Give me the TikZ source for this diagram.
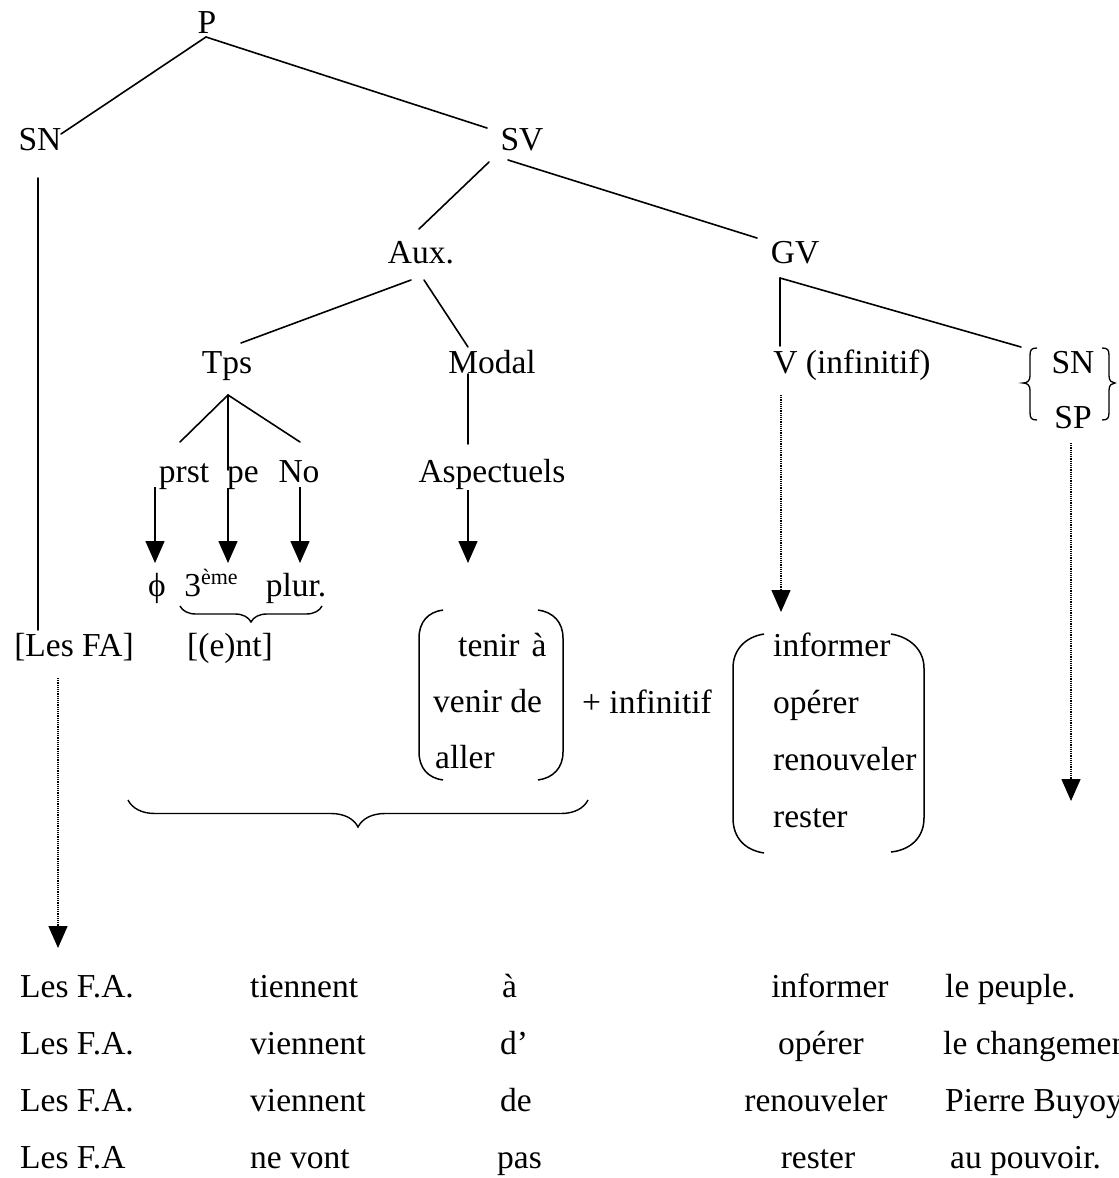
\documentclass[tikz,border=0pt]{standalone}
\usepackage{fontspec}
\setmainfont{Liberation Serif}
\usetikzlibrary{arrows.meta,decorations.pathreplacing}
\begin{document}
\begin{tikzpicture}[x=1pt,y=-1pt,
  lbl/.style={inner sep=0pt, anchor=base, font=\fontsize{33.5}{40}\selectfont},
  lbll/.style={lbl, anchor=base west},
  branch/.style={line width=1.6pt, line cap=round},
  solidarrow/.style={line width=1.6pt, -{Triangle[width=19pt,length=22pt]}},
  dotarrow/.style={line width=1.5pt, dash pattern=on 1.1pt off 1.1pt, -{Triangle[width=19pt,length=22pt]}},
  paren/.style={line width=1.5pt},
  curly/.style={line width=1.4pt, decorate}]
\useasboundingbox (0,0) rectangle (1119,1178);
\clip (0,0) rectangle (1119,1178);

% ---- tree labels
\node[lbl] (P) at (207,33) {P};
\node[lbl] (SN) at (40,150) {SN};
\node[lbl] (SV) at (522,150) {SV};
\node[lbl] (Aux) at (421,263) {Aux.};
\node[lbl] (GV) at (795,263) {GV};
\node[lbl] (Tps) at (227,373) {Tps};
\node[lbl] (Modal) at (492,373) {Modal};
\node[lbl] (Vinf) at (852,373) {V (infinitif)};
\node[lbl] (SNc) at (1073,373) {SN};
\node[lbl] (SPc) at (1073,428) {SP};
\node[lbl] (prst) at (184,482) {prst};
\node[lbl] (pe) at (243,482) {pe};
\node[lbl] (No) at (299,482) {No};
\node[lbl] (Asp) at (492,482) {Aspectuels};
\node[lbl] (phi) at (157,596) {ϕ};
\node[lbl] (troisieme) at (211,596) {3\raisebox{12pt}{\fontsize{22}{24}\selectfont ème}};
\node[lbl] (plur) at (296,596) {plur.};
\node[lbl] (LesFA) at (74,656) {[Les FA]};
\node[lbl] (ent) at (230,656) {[(e)nt]};

% ---- left matrix: auxiliaires aspectuels
\node[lbll] (tenir) at (458,656) {tenir\hspace{12pt}à};
\node[lbll] (venir) at (433,712) {venir de};
\node[lbll] (aller) at (435,768) {aller};
\node[lbl] (plusinf) at (647,713) {+ infinitif};

% ---- right matrix: infinitifs
\node[lbll] (informer) at (773,656) {informer};
\node[lbll] (operer) at (773,713) {opérer};
\node[lbll] (renouveler) at (773,770) {renouveler};
\node[lbll] (rester) at (773,827) {rester};

% ---- branch points
\coordinate (Pb) at (206,37);
\coordinate (SNt) at (61,134);
\coordinate (SVt) at (487,128);
\coordinate (SVl) at (489,162);
\coordinate (SVr) at (508,160);
\coordinate (Auxt) at (419,229);
\coordinate (GVt) at (757,238);
\coordinate (Auxl) at (411,280);
\coordinate (Auxr) at (424,280);
\coordinate (Tpst) at (241,343);
\coordinate (Modt) at (468,347);
\coordinate (GVb) at (780,278);
\coordinate (Vt) at (780,346);
\coordinate (SNbr) at (1021,347);
\coordinate (Tpsb) at (228,395);
\coordinate (prstt) at (180,442);
\coordinate (pet) at (228,470);
\coordinate (Not) at (300,442);
\coordinate (Modb) at (468,374);
\coordinate (Aspt) at (468,444);
\coordinate (SNv1) at (38,178);
\coordinate (SNv2) at (38,630);

\draw[branch] (Pb) -- (SNt);
\draw[branch] (Pb) -- (SVt);
\draw[branch] (SVl) -- (Auxt);
\draw[branch] (SVr) -- (GVt);
\draw[branch] (Auxl) -- (Tpst);
\draw[branch] (Auxr) -- (Modt);
\draw[branch] (GVb) -- (Vt);
\draw[branch] (GVb) -- (SNbr);
\draw[branch] (Tpsb) -- (prstt);
\draw[branch] (Tpsb) -- (pet);
\draw[branch] (Tpsb) -- (Not);
\draw[branch] (Modb) -- (Aspt);
\draw[branch] (SNv1) -- (SNv2);

% ---- solid arrows
\coordinate (a1) at (155,487); \coordinate (a1e) at (155,563);
\coordinate (a2) at (228,488); \coordinate (a2e) at (228,563);
\coordinate (a3) at (300,487); \coordinate (a3e) at (300,563);
\coordinate (a4) at (468,490); \coordinate (a4e) at (468,563);
\draw[solidarrow] (a1) -- (a1e);
\draw[solidarrow] (a2) -- (a2e);
\draw[solidarrow] (a3) -- (a3e);
\draw[solidarrow] (a4) -- (a4e);

% ---- dotted arrows
\coordinate (d1) at (58,678); \coordinate (d1e) at (58,948);
\coordinate (d2) at (781,395); \coordinate (d2e) at (781,612);
\coordinate (d3) at (1071,443); \coordinate (d3e) at (1071,801);
\draw[dotarrow] (d1) -- (d1e);
\draw[dotarrow] (d2) -- (d2e);
\draw[dotarrow] (d3) -- (d3e);

% ---- braces { SN SP }
\draw[paren, line width=1.3pt] (1037,348) .. controls (1031,348) and (1030,350) .. (1030,356) -- (1030,376)
  .. controls (1030,381) and (1027,383) .. (1023,383) .. controls (1027,383) and (1030,385) .. (1030,390)
  -- (1030,412) .. controls (1030,418) and (1031,420) .. (1037,420);
\draw[paren, line width=1.3pt] (1102,348) .. controls (1108,348) and (1109,350) .. (1109,356) -- (1109,376)
  .. controls (1109,381) and (1112,383) .. (1115,383) .. controls (1112,383) and (1109,385) .. (1109,390)
  -- (1109,412) .. controls (1109,418) and (1108,420) .. (1102,420);

% ---- parentheses of the left matrix
\draw[paren] (443,610) .. controls (428,612) and (419,622) .. (419,638) -- (419,752)
  .. controls (419,768) and (428,778) .. (443,780);
\draw[paren] (538,610) .. controls (553,612) and (563,622) .. (563,638) -- (563,752)
  .. controls (563,768) and (553,778) .. (538,780);

% ---- parentheses of the right matrix
\draw[paren] (764,634) .. controls (745,637) and (733,650) .. (733,668) -- (733,818)
  .. controls (733,838) and (745,850) .. (764,853);
\draw[paren] (891,634) .. controls (910,637) and (924,650) .. (924,668) -- (924,818)
  .. controls (924,838) and (910,850) .. (891,852);

% ---- underbraces
\coordinate (b1s) at (180,606); \coordinate (b1e) at (322,606);
\draw[curly, decoration={brace, mirror, amplitude=16pt}] (b1s) -- (b1e);
\coordinate (b2s) at (128,800); \coordinate (b2e) at (588,800);
\draw[curly, decoration={brace, mirror, amplitude=27pt}] (b2s) -- (b2e);

% ---- example sentences
\node[lbll] (r1c1) at (20,997) {Les F.A.};
\node[lbll] (r2c1) at (20,1054) {Les F.A.};
\node[lbll] (r3c1) at (20,1111) {Les F.A.};
\node[lbll] (r4c1) at (20,1168) {Les F.A};
\node[lbll] (r1c2) at (250,997) {tiennent};
\node[lbll] (r2c2) at (250,1054) {viennent};
\node[lbll] (r3c2) at (250,1111) {viennent};
\node[lbll] (r4c2) at (250,1168) {ne vont};
\node[lbll] (r1c3) at (502,997) {à};
\node[lbll] (r2c3) at (500,1054) {d’};
\node[lbll] (r3c3) at (500,1111) {de};
\node[lbll] (r4c3) at (497,1168) {pas};
\node[lbl] (r1c4) at (830,997) {informer};
\node[lbl] (r2c4) at (821,1054) {opérer};
\node[lbl] (r3c4) at (816,1111) {renouveler};
\node[lbl] (r4c4) at (818,1168) {rester};
\node[lbll] (r1c5) at (945,997) {le peuple.};
\node[lbll] (r2c5) at (943,1054) {le changement};
\node[lbll] (r3c5) at (945,1111) {Pierre Buyoya};
\node[lbll] (r4c5) at (950,1168) {au pouvoir.};
\end{tikzpicture}
\end{document}
